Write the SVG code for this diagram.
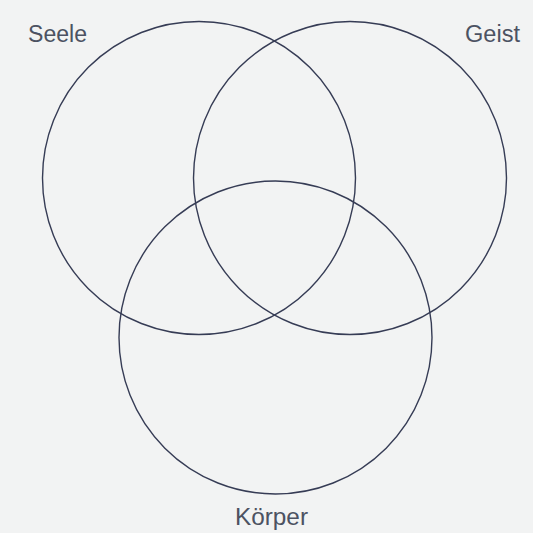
<svg xmlns="http://www.w3.org/2000/svg" width="533" height="533" viewBox="0 0 533 533">
<style>
.c{fill:none;stroke:#363c55;stroke-width:1.4}
.t{font-family:"Liberation Sans",Arial,sans-serif;font-size:23px;fill:#4c5262}
</style>
<rect width="533" height="533" fill="#f2f3f3"/>
<g id="connectors"></g>
<g id="seele">
<circle class="c" cx="199" cy="178" r="156.5"/>
<text class="t" x="28" y="42" textLength="59" lengthAdjust="spacingAndGlyphs">Seele</text>
</g>
<g id="geist">
<circle class="c" cx="350" cy="178" r="156.5"/>
<text class="t" x="465" y="42" textLength="55" lengthAdjust="spacingAndGlyphs">Geist</text>
</g>
<g id="koerper">
<circle class="c" cx="275.5" cy="337.5" r="156.5"/>
<text class="t" x="235" y="525" textLength="73" lengthAdjust="spacingAndGlyphs">Körper</text>
</g>
</svg>
